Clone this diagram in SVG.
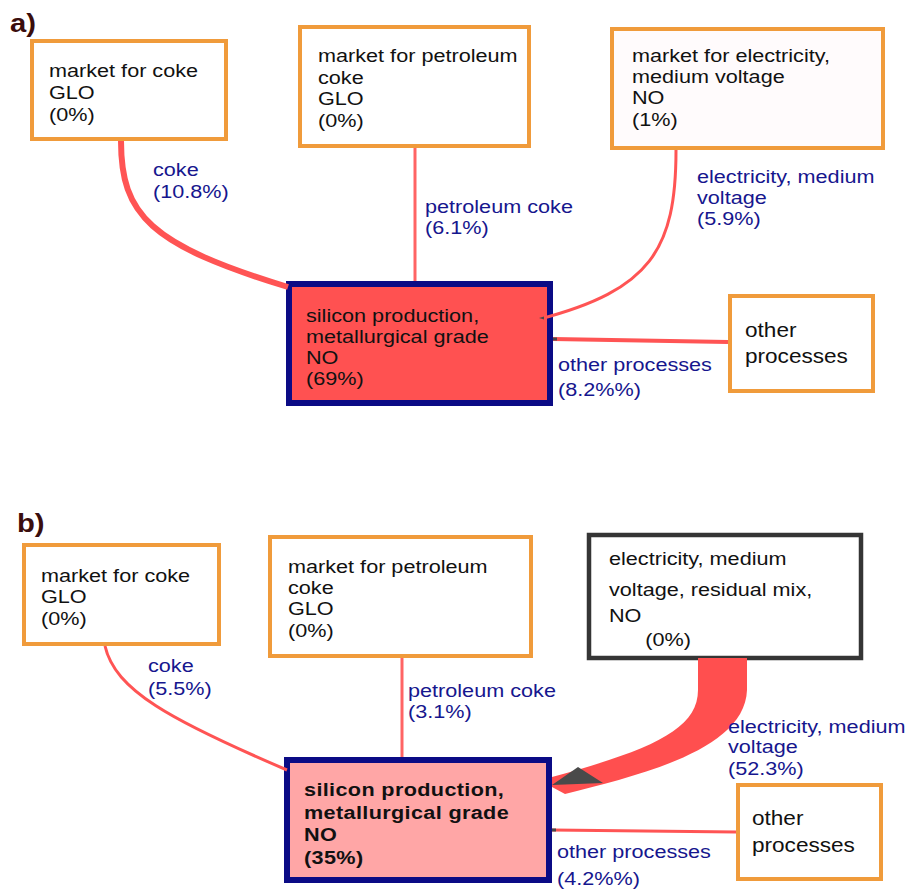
<svg xmlns="http://www.w3.org/2000/svg" width="909" height="892" viewBox="0 0 909 892">
<style>
.t{font-family:"Liberation Sans",Arial,sans-serif;font-size:18.5px;fill:#111;transform-box:fill-box;transform-origin:0 0;transform:scaleX(1.17)}
.lb{fill:#16168e}
.b{font-weight:bold;letter-spacing:0.3px}
.ttl{font-family:"Liberation Sans",Arial,sans-serif;font-size:25px;font-weight:bold;fill:#3a0d0d;transform-box:fill-box;transform-origin:0 0;transform:scaleX(1.17)}
.box{fill:#fff;stroke:#f09b3b;stroke-width:4}
.main{stroke:#0b0b85;stroke-width:6}
.dark{fill:#fff;stroke:#353535;stroke-width:4.5}
.c{fill:none;stroke:#ff5454;stroke-linecap:butt}
.ah{fill:#4a4a4a}
</style>

<text class="ttl" x="10" y="32">a)</text>
<text class="ttl" x="17" y="532">b)</text>

<g id="nodes">
  <g id="a-coke">
    <rect class="box" x="32" y="41" width="194" height="98"/>
    <text class="t" x="49" y="77">market for coke<tspan x="49" y="99">GLO</tspan><tspan x="49" y="121">(0%)</tspan></text>
  </g>
  <g id="a-petcoke">
    <rect class="box" x="300" y="27" width="229" height="119"/>
    <text class="t" x="318" y="62">market for petroleum<tspan x="318" y="84">coke</tspan><tspan x="318" y="105">GLO</tspan><tspan x="318" y="127">(0%)</tspan></text>
  </g>
  <g id="a-elec">
    <rect class="box" x="612" y="29" width="271" height="119" style="fill:#fffbfc"/>
    <text class="t" x="632" y="62">market for electricity,<tspan x="632" y="83">medium voltage</tspan><tspan x="632" y="104">NO</tspan><tspan x="632" y="126">(1%)</tspan></text>
  </g>
  <g id="a-main">
    <rect class="main" x="289" y="284" width="261" height="119" fill="#ff5151"/>
    <text class="t" x="306" y="322">silicon production,<tspan x="306" y="343">metallurgical grade</tspan><tspan x="306" y="364">NO</tspan><tspan x="306" y="385">(69%)</tspan></text>
  </g>
  <g id="a-other">
    <rect class="box" x="730" y="296" width="143" height="95"/>
    <text class="t" x="745" y="337" style="font-size:19.3px">other<tspan x="745" y="363">processes</tspan></text>
  </g>

  <g id="b-coke">
    <rect class="box" x="24" y="545" width="195" height="99"/>
    <text class="t" x="41" y="582">market for coke<tspan x="41" y="603">GLO</tspan><tspan x="41" y="625">(0%)</tspan></text>
  </g>
  <g id="b-petcoke">
    <rect class="box" x="270" y="537" width="261" height="119"/>
    <text class="t" x="288" y="573">market for petroleum<tspan x="288" y="594">coke</tspan><tspan x="288" y="615">GLO</tspan><tspan x="288" y="637">(0%)</tspan></text>
  </g>
  <g id="b-elec">
    <rect class="dark" x="589" y="535" width="272" height="123"/>
    <text class="t" x="609" y="565">electricity, medium<tspan x="609" y="596">voltage, residual mix,</tspan><tspan x="609" y="622">NO</tspan><tspan x="640" y="646">(0%)</tspan></text>
  </g>
  <g id="b-main">
    <rect class="main" x="287" y="760" width="262" height="120" fill="#ffa6a6"/>
    <text class="t b" x="304" y="796">silicon production,<tspan x="304" y="819">metallurgical grade</tspan><tspan x="304" y="841">NO</tspan><tspan x="304" y="864">(35%)</tspan></text>
  </g>
  <g id="b-other">
    <rect class="box" x="738" y="785" width="143" height="94"/>
    <text class="t" x="752" y="825" style="font-size:19.3px">other<tspan x="752" y="852">processes</tspan></text>
  </g>
</g>

<g id="connectors">
  <path class="c" d="M121,141 C121,215 150,245 288,287" stroke-width="6"/>
  <path class="c" d="M415,148 L415,281" stroke-width="3" style="stroke:#ff6464"/>
  <path class="c" d="M676,150 C676,250 650,290 540,319" stroke-width="3"/>
  <path class="ah" d="M539,318 l5,-1.5 l0,3 z"/>
  <path class="c" d="M553,339 L728,342" stroke-width="4"/>
  <path class="ah" d="M553,337.5 l4,0 l0,3 l-4,0 z"/>

  <path class="c" d="M105,646 C115,690 170,720 287,770" stroke-width="3"/>
  <path class="c" d="M402,658 L402,757" stroke-width="3" style="stroke:#ff6464"/>
  <path d="M698,658 L698,690 C698,730 650,750 552,777 L552,787 L565,794 C640,775 745,750 747,690 L747,658 Z" fill="#ff4f4f"/>
  <path class="ah" d="M552,785 L578,767 L603,783 Z"/>
  <path class="c" d="M552,830 L736,832" stroke-width="3"/>
  <path class="ah" d="M552,828.5 l4,0 l0,3 l-4,0 z"/>
</g>

<g id="labels">
  <text class="t lb" x="153" y="176">coke<tspan x="153" y="198">(10.8%)</tspan></text>
  <text class="t lb" x="425" y="213">petroleum coke<tspan x="425" y="234">(6.1%)</tspan></text>
  <text class="t lb" x="697" y="183">electricity, medium<tspan x="697" y="204">voltage</tspan><tspan x="697" y="225">(5.9%)</tspan></text>
  <text class="t lb" x="558" y="371">other processes<tspan x="558" y="396">(8.2%%)</tspan></text>

  <text class="t lb" x="148" y="672">coke<tspan x="148" y="695">(5.5%)</tspan></text>
  <text class="t lb" x="408" y="697">petroleum coke<tspan x="408" y="718">(3.1%)</tspan></text>
  <text class="t lb" x="728" y="733">electricity, medium<tspan x="728" y="753">voltage</tspan><tspan x="728" y="775">(52.3%)</tspan></text>
  <text class="t lb" x="557" y="858">other processes<tspan x="557" y="885">(4.2%%)</tspan></text>
</g>
</svg>
